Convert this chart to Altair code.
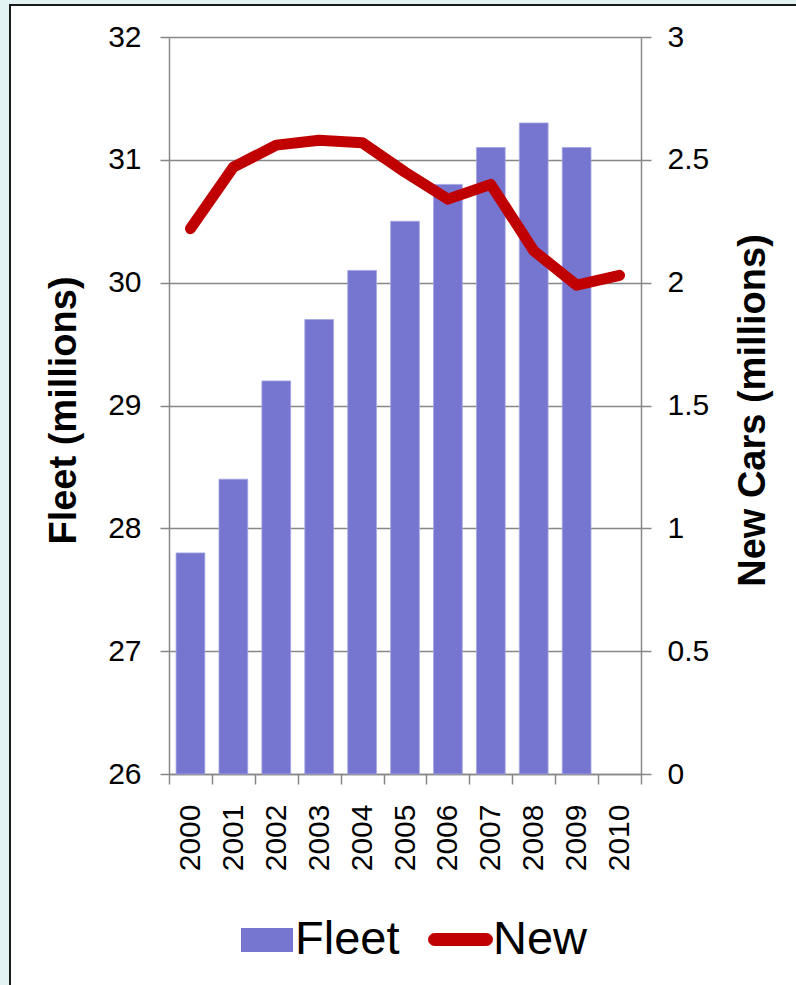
import altair as alt
import pandas as pd

# Passenger car fleet and new car registrations, 2000-2010
years = ["2000", "2001", "2002", "2003", "2004", "2005",
         "2006", "2007", "2008", "2009", "2010"]
fleet = [27.8, 28.4, 29.2, 29.7, 30.1, 30.5, 30.8, 31.1, 31.3, 31.1]
new_cars = [2.22, 2.47, 2.56, 2.58, 2.57, 2.45, 2.34, 2.40, 2.13, 1.99, 2.03]

fleet_ticks = [26, 27, 28, 29, 30, 31, 32]
new_ticks = [0, 0.5, 1, 1.5, 2, 2.5, 3]

FONT = "Liberation Sans"
GRID = "#878787"
BAR = "#7676D0"
LINE = "#C00000"
OUTSIDE = "#e3f2f2"

# legend glyphs: a wide box for the bars, a rounded capsule for the line
BOX = "M-1,-0.46H1V0.46H-1Z"
CAPSULE = ("M-0.8125,-0.1875H0.8125A0.1875,0.1875 0 0 1 0.8125,0.1875"
           "H-0.8125A0.1875,0.1875 0 0 1 -0.8125,-0.1875Z")

bars_df = pd.DataFrame({"year": years[:len(fleet)], "value": fleet, "series": "Fleet"})
line_df = pd.DataFrame({"year": years, "value": new_cars, "series": "New"})

x_enc = alt.X(
    "year:N",
    scale=alt.Scale(domain=years, paddingInner=0, paddingOuter=0),
    axis=alt.Axis(
        title=None, labelAngle=270, labelFontSize=30, labelFont=FONT,
        labelColor="black", labelPadding=20, tickSize=10, tickBand="extent",
        tickColor=GRID, tickWidth=1.5, domainColor=GRID, domainWidth=1.5,
        grid=False,
    ),
)

# tinted margin strips and the dark frame line around the figure
one = alt.Data(values=[{"k": 1}])
strip_left = alt.Chart(one).mark_rect(fill=OUTSIDE).encode(
    x=alt.value(-169), x2=alt.value(-159), y=alt.value(-37), y2=alt.value(1000),
)
strip_top = alt.Chart(one).mark_rect(fill=OUTSIDE).encode(
    x=alt.value(-169), x2=alt.value(700), y=alt.value(-37), y2=alt.value(-32),
)
frame = alt.Chart(one).mark_rect(
    filled=False, stroke="#1a1a1a", strokeWidth=2
).encode(
    x=alt.value(-159), x2=alt.value(700), y=alt.value(-32), y2=alt.value(1000),
)

bars = alt.Chart(bars_df).mark_bar(
    stroke="#a4a4e4", strokeWidth=0.8, width=alt.RelativeBandSize(0.67)
).encode(
    x=x_enc,
    y=alt.Y(
        "value:Q",
        scale=alt.Scale(domain=[26, 32], nice=False, zero=False),
        axis=alt.Axis(
            orient="left", values=fleet_ticks, format="d",
            labelFontSize=30, labelFont=FONT, labelColor="black",
            labelPadding=19, tickSize=9, tickColor=GRID, tickWidth=1.5,
            domainColor=GRID, domainWidth=1.5,
            grid=True, gridColor=GRID, gridWidth=1.5,
            title="Fleet (millions)", titleFont=FONT, titleFontSize=38,
            titleFontWeight="bold", titleColor="black", titleAngle=270,
            titleX=-94, titleY=373, titleBaseline="alphabetic",
            titleAlign="center",
        ),
    ),
    y2=alt.datum(26),
    fill=alt.Fill(
        "series:N",
        scale=alt.Scale(domain=["Fleet"], range=[BAR]),
        legend=alt.Legend(
            orient="none", legendX=72, legendY=877, title=None,
            labelFont=FONT, labelFontSize=47, labelColor="black",
            symbolType=BOX, symbolSize=2704,
            symbolFillColor=BAR, symbolOpacity=1,
            symbolStrokeWidth=0, labelOffset=2, padding=0,
        ),
    ),
)

line = alt.Chart(line_df).mark_line(
    strokeWidth=11, strokeCap="round", strokeJoin="round"
).encode(
    x=x_enc,
    y=alt.Y(
        "value:Q",
        scale=alt.Scale(domain=[0, 3], nice=False),
        axis=alt.Axis(
            orient="right", values=new_ticks, format="~g",
            labelFontSize=30, labelFont=FONT, labelColor="black",
            labelPadding=16, tickSize=10, tickColor=GRID, tickWidth=1.5,
            domainColor=GRID, domainWidth=1.5, grid=False,
            title="New Cars (millions)", titleFont=FONT, titleFontSize=38,
            titleFontWeight="bold", titleColor="black", titleAngle=270,
            titleX=123, titleY=373, titleBaseline="alphabetic",
            titleAlign="center",
        ),
    ),
    stroke=alt.Stroke(
        "series:N",
        scale=alt.Scale(domain=["New"], range=[LINE]),
        legend=alt.Legend(
            orient="none", legendX=259, legendY=870, title=None,
            labelFont=FONT, labelFontSize=47, labelColor="black",
            symbolType=CAPSULE, symbolSize=4096, symbolStrokeWidth=1,
            symbolFillColor=LINE, symbolOpacity=1,
            labelOffset=0, padding=0,
        ),
    ),
)

chart = alt.layer(strip_left, strip_top, frame, bars, line).resolve_scale(
    y="independent", fill="independent", stroke="independent"
).properties(
    width=472, height=737,
    autosize=alt.AutoSizeParams(type="none"),
    padding={"left": 169, "top": 37, "right": 155, "bottom": 211},
    background="white",
).configure_view(stroke=None)

chart.save("out.html", embed_options={"renderer": "svg", "actions": False})
